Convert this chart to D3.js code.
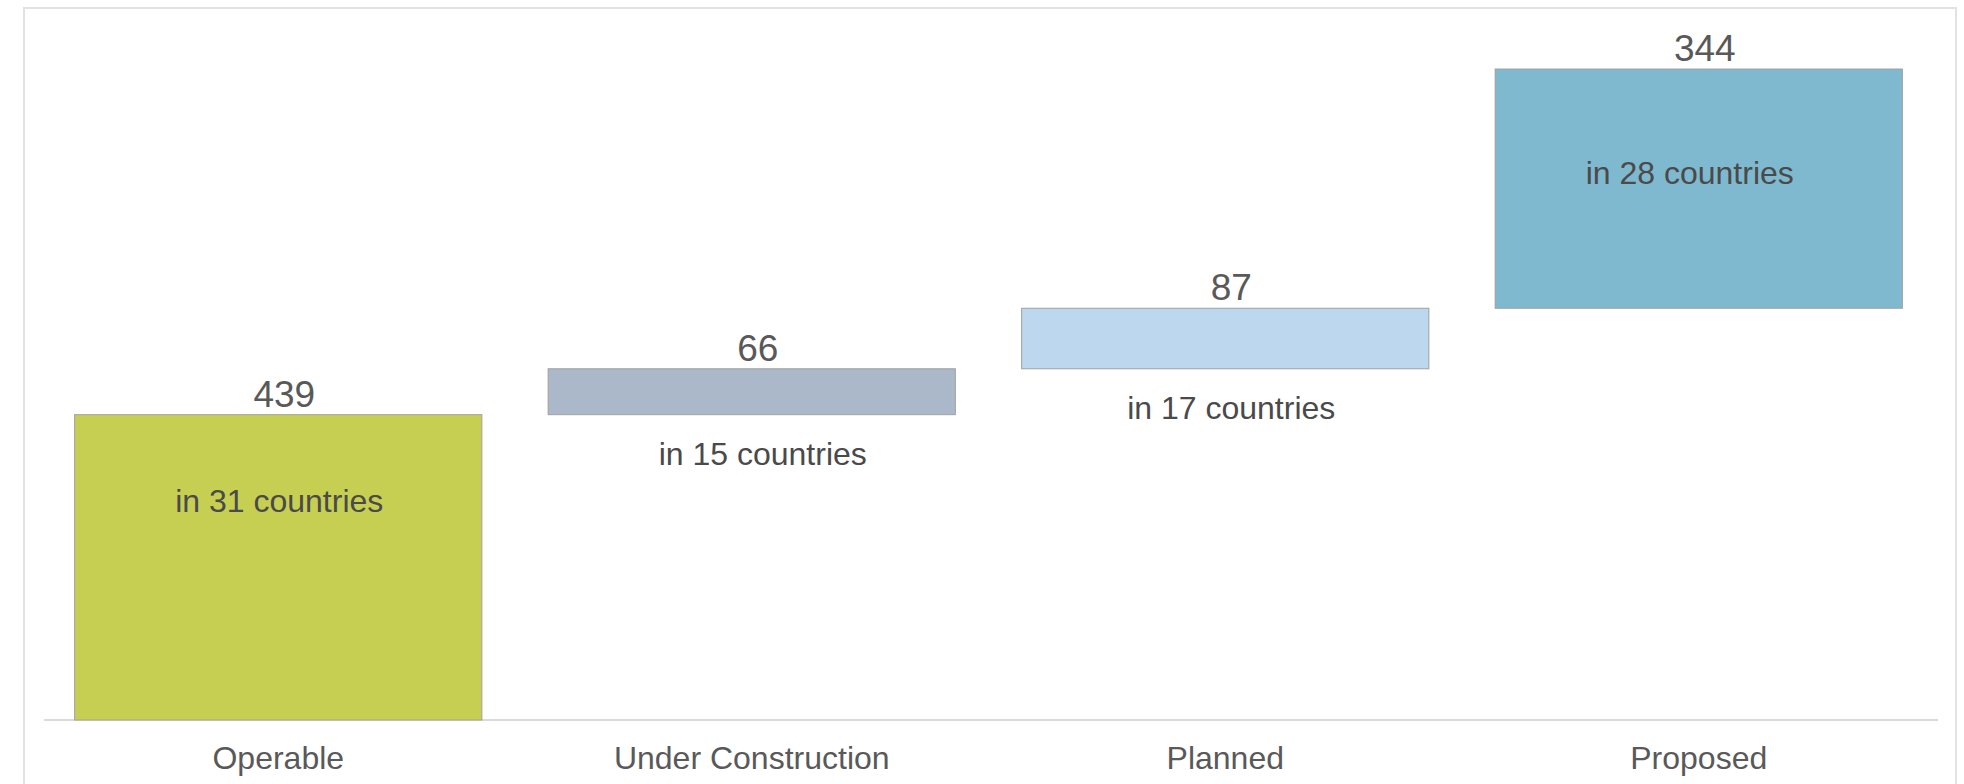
<!DOCTYPE html>
<html>
<head>
<meta charset="utf-8">
<script src="https://cdn.jsdelivr.net/npm/d3@7"></script>
<style>
  html, body { margin: 0; padding: 0; background: #fff; }
  svg { display: block; font-family: Arial, "Liberation Sans", Helvetica, sans-serif; }
</style>
</head>
<body>
<svg id="chart" width="1964" height="784"></svg>
<script>
const categories = ["Operable", "Under Construction", "Planned", "Proposed"];
const values = [439, 66, 87, 344];
const countryLabels = ["in 31 countries", "in 15 countries", "in 17 countries", "in 28 countries"];
const colors = ["#c7cf52", "#abb8ca", "#bdd7ee", "#7fb9cf"];

const W = 1964, H = 784;
const svg = d3.select("#chart");

// frame
svg.append("rect")
  .attr("x", 24).attr("y", 8)
  .attr("width", 1932).attr("height", 800)
  .attr("fill", "none").attr("stroke", "#e2e2e2").attr("stroke-width", 2);

const x = d3.scaleBand().domain(categories).range([41.5, 1935.5]).paddingInner(0.14).paddingOuter(0.07);
const y = d3.scaleLinear().domain([0, 1000]).range([720, 24.5]);

// waterfall cumulative
let acc = 0;
const bars = categories.map((c, i) => {
  const start = i === 0 ? 0 : acc;
  const end = start + values[i];
  acc = end;
  return { c, i, start, end, v: values[i] };
});

// axis baseline
const xAxis = d3.axisBottom(x).tickSize(0).tickPadding(0);
const gx = svg.append("g").attr("transform", `translate(0,${y(0)})`).call(xAxis);
gx.select(".domain").attr("stroke", "#dadada").attr("stroke-width", 2).attr("d", "M44,0H1938");
gx.selectAll(".tick text")
  .attr("y", 49).attr("dy", null)
  .attr("font-size", 32).attr("fill", "#595959")
  .attr("font-family", "Arial, 'Liberation Sans', sans-serif");

svg.append("g").selectAll("rect").data(bars).join("rect")
  .attr("x", d => x(d.c))
  .attr("width", x.bandwidth())
  .attr("y", d => y(d.end))
  .attr("height", d => y(d.start) - y(d.end))
  .attr("fill", (d, i) => colors[i])
  .attr("stroke", "#a0a0a0").attr("stroke-width", 1);

// value labels
svg.append("g").selectAll("text").data(bars).join("text")
  .attr("x", d => x(d.c) + x.bandwidth() / 2 + 6)
  .attr("y", d => y(d.end) - 8)
  .attr("text-anchor", "middle")
  .attr("font-size", 37).attr("fill", "#595959")
  .text(d => d.v);

// country labels: inside large bars, below small bars
const insideOffset = [97, 0, 0, 115];
const labelNudge = [1, 11, 6, -9];
svg.append("g").selectAll("text").data(bars).join("text")
  .attr("x", d => x(d.c) + x.bandwidth() / 2 + labelNudge[d.i])
  .attr("y", d => (y(d.start) - y(d.end)) > 150 ? y(d.end) + insideOffset[d.i] : y(d.start) + 50)
  .attr("text-anchor", "middle")
  .attr("font-size", 32).attr("fill", "#4a4a4a")
  .text(d => countryLabels[d.i]);
</script>
</body>
</html>
